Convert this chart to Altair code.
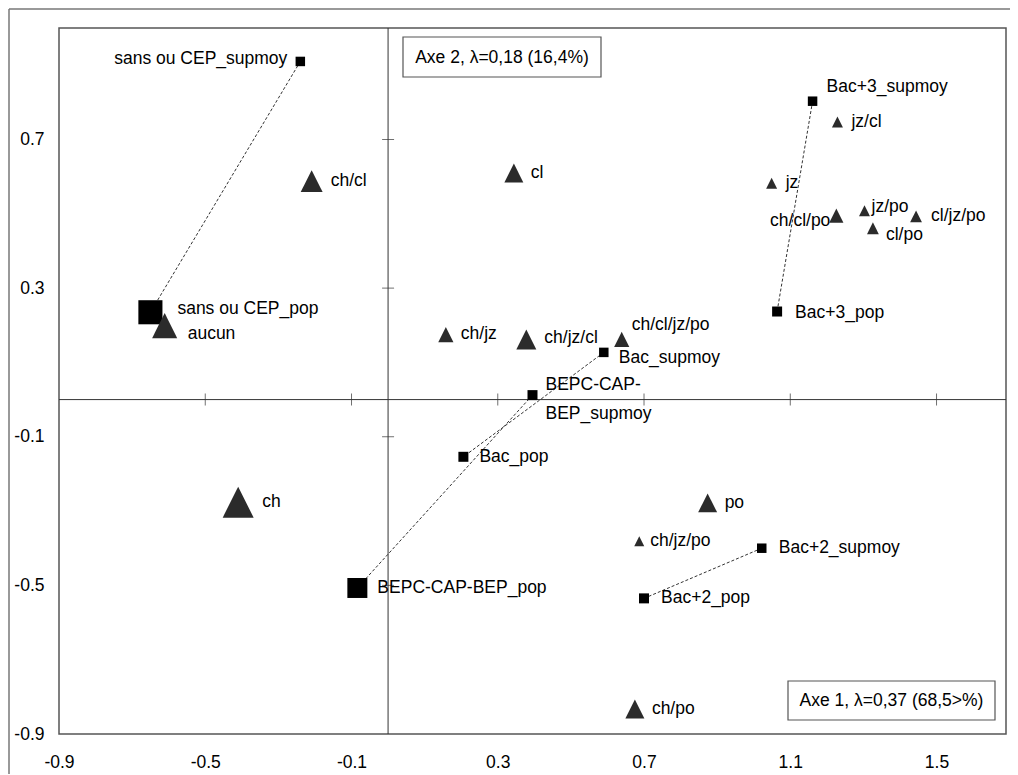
import altair as alt
import pandas as pd

# ---------------- data ----------------
NAMES = [
    "sans ou CEP_supmoy", "sans ou CEP_pop", "BEPC-CAP-BEP_supmoy", "BEPC-CAP-BEP_pop",
    "Bac_supmoy", "Bac_pop", "Bac+2_supmoy", "Bac+2_pop", "Bac+3_supmoy", "Bac+3_pop",
    "aucun", "ch", "cl", "jz", "po", "ch/cl", "ch/jz", "ch/po", "jz/cl", "jz/po",
    "cl/po", "ch/jz/cl", "ch/cl/po", "ch/jz/po", "cl/jz/po", "ch/cl/jz/po",
]
KINDS = ["diplôme"] * 10 + ["pratique"] * 16
AXE1 = [-0.24, -0.65, 0.395, -0.084, 0.59, 0.206, 1.022, 0.70, 1.161, 1.064,
        -0.611, -0.41, 0.344, 1.049, 0.874, -0.209, 0.158, 0.675, 1.229, 1.303,
        1.326, 0.378, 1.226, 0.687, 1.444, 0.639]
AXE2 = [0.91, 0.235, 0.012, -0.507, 0.127, -0.154, -0.40, -0.535, 0.803, 0.237,
        0.199, -0.276, 0.61, 0.582, -0.278, 0.588, 0.175, -0.833, 0.747, 0.508,
        0.461, 0.162, 0.495, -0.381, 0.493, 0.162]
MASS = [0.9, 5.8, 1.0, 4.0, 0.9, 1.0, 0.9, 1.0, 0.9, 1.0,
        6.3, 9.6, 3.6, 1.2, 3.6, 4.8, 2.3, 3.6, 1.2, 1.2,
        1.4, 4.0, 2.0, 1.0, 1.4, 2.3]
LINKS = [
    ("sans ou CEP_supmoy", "sans ou CEP_pop"),
    ("BEPC-CAP-BEP_supmoy", "BEPC-CAP-BEP_pop"),
    ("Bac_supmoy", "Bac_pop"),
    ("Bac+2_supmoy", "Bac+2_pop"),
    ("Bac+3_supmoy", "Bac+3_pop"),
]
X_TICKS = [-0.9, -0.5, -0.1, 0.3, 0.7, 1.1, 1.5]
Y_TICKS = [-0.9, -0.5, -0.1, 0.3, 0.7]
BOX_AXE2 = "Axe 2, λ=0,18 (16,4%)"
BOX_AXE1 = "Axe 1, λ=0,37 (68,5>%)"
DISPLAY = {"BEPC-CAP-BEP_supmoy": "BEPC-CAP-\nBEP_supmoy"}

# ---------------- label layout (pixels: dx, dy, align, baseline) ----------------
LABEL_LAYOUT = {
    "sans ou CEP_supmoy": (-13, -2, "right", "middle"),
    "sans ou CEP_pop": (27, -3, "left", "middle"),
    "BEPC-CAP-BEP_supmoy": (13, -19, "left", "top"),
    "BEPC-CAP-BEP_pop": (20, 0, "left", "middle"),
    "Bac_supmoy": (15, 6, "left", "middle"),
    "Bac_pop": (16, 0, "left", "middle"),
    "Bac+2_supmoy": (17, 0, "left", "middle"),
    "Bac+2_pop": (17, 0, "left", "middle"),
    "Bac+3_supmoy": (14, -14, "left", "middle"),
    "Bac+3_pop": (18, 1, "left", "middle"),
    "aucun": (23, 8, "left", "middle"),
    "ch": (24, 0, "left", "middle"),
    "cl": (17, 0, "left", "middle"),
    "jz": (14, 0, "left", "middle"),
    "po": (17, 0, "left", "middle"),
    "ch/cl": (19, 0, "left", "middle"),
    "ch/jz": (15, -1, "left", "middle"),
    "ch/po": (17, 0, "left", "middle"),
    "jz/cl": (14, 0, "left", "middle"),
    "jz/po": (7, -4, "left", "middle"),
    "cl/po": (13, 7, "left", "middle"),
    "ch/jz/cl": (18, -1, "left", "middle"),
    "ch/cl/po": (-6, 5, "right", "middle"),
    "ch/jz/po": (11, 0, "left", "middle"),
    "cl/jz/po": (15, 0, "left", "middle"),
    "ch/cl/jz/po": (10, -14, "left", "middle"),
}

FONT = "Liberation Sans"
FS = 17.5
W, H = 947, 706
TRI = "M0,-1L1,1L-1,1Z"

df = pd.DataFrame({"name": NAMES, "kind": KINDS, "x": AXE1, "y": AXE2, "mass": MASS})
df["label"] = [DISPLAY.get(n, n) for n in NAMES]
pos = df.set_index("name")
links = pd.DataFrame([
    {"pair": a, "x": pos.loc[a, "x"], "y": pos.loc[a, "y"],
     "x2": pos.loc[b, "x"], "y2": pos.loc[b, "y"]} for a, b in LINKS
])

xs = alt.Scale(domain=[-0.9, 1.69], nice=False, zero=False)
ys = alt.Scale(domain=[-0.9, 1.0], nice=False, zero=False)
LABEL_EXPR = "replace(format(datum.value, '.1f'), '\u2212', '-')"
xaxis = alt.Axis(values=X_TICKS, labelExpr=LABEL_EXPR, title=None, labelPadding=19,
                 labelFlush=False, labelOverlap=False)
yaxis = alt.Axis(values=Y_TICKS, labelExpr=LABEL_EXPR, title=None, labelPadding=15,
                 labelFlush=False, labelOverlap=False)


def X(f="x"):
    return alt.X(f"{f}:Q", scale=xs, axis=xaxis)


def Y(f="y"):
    return alt.Y(f"{f}:Q", scale=ys, axis=yaxis)


one = pd.DataFrame({"d": [0]})

# outer frame (decoration)
frame_top = alt.Chart(one).mark_rule(color="#777", strokeWidth=1.5).encode(
    x=alt.value(-50), x2=alt.value(951), y=alt.value(-19))
frame_left = alt.Chart(one).mark_rule(color="#777", strokeWidth=1.5).encode(
    x=alt.value(-50), y=alt.value(-19), y2=alt.value(760))

# zero axes
vline = alt.Chart(pd.DataFrame({"x": [0.0]})).mark_rule(color="#333", strokeWidth=1).encode(x=X())
hline = alt.Chart(pd.DataFrame({"y": [0.0]})).mark_rule(color="#333", strokeWidth=1).encode(y=Y())

xt = pd.DataFrame({"x": [v for v in X_TICKS if v > -0.9], "y": 0.0})
yt = pd.DataFrame({"y": [v for v in Y_TICKS if v > -0.9], "x": 0.0})
xticks = alt.Chart(xt).mark_tick(orient="vertical", size=12, thickness=1, color="#333").encode(x=X(), y=Y())
yticks = alt.Chart(yt).mark_tick(orient="horizontal", size=12, thickness=1, color="#333").encode(x=X(), y=Y())

link_layer = alt.Chart(links).mark_rule(color="#333", strokeWidth=1, strokeDash=[3, 2]).encode(
    x=X(), y=Y(), x2="x2:Q", y2="y2:Q")

points = alt.Chart(df).mark_point(filled=True, opacity=1, strokeWidth=0).encode(
    x=X(), y=Y(),
    shape=alt.Shape("kind:N", scale=alt.Scale(domain=["diplôme", "pratique"], range=["square", TRI]), legend=None),
    color=alt.Color("kind:N", scale=alt.Scale(domain=["diplôme", "pratique"], range=["#000000", "#2b2b2b"]), legend=None),
    size=alt.Size("mass:Q", scale=alt.Scale(type="linear", domain=[0, 10], range=[0, 1000]), legend=None),
)

label_layers = []
for n in NAMES:
    dx, dy, al, bl = LABEL_LAYOUT[n]
    label_layers.append(
        alt.Chart(df).transform_filter(alt.datum.name == n).mark_text(
            dx=dx, dy=dy, align=al, baseline=bl, font=FONT, fontSize=FS,
            color="#000", lineBreak="\n", lineHeight=29,
        ).encode(x=X(), y=Y(), text="label:N")
    )

box2 = alt.Chart(one).mark_rect(fill="white", stroke="#555", strokeWidth=1.2).encode(
    x=alt.value(344), x2=alt.value(542), y=alt.value(9), y2=alt.value(49))
box2t = alt.Chart(one).mark_text(font=FONT, fontSize=FS, color="#000", align="center", baseline="middle").encode(
    x=alt.value(443), y=alt.value(30), text=alt.value(BOX_AXE2))
box1 = alt.Chart(one).mark_rect(fill="white", stroke="#555", strokeWidth=1.2).encode(
    x=alt.value(729), x2=alt.value(936), y=alt.value(653), y2=alt.value(692))
box1t = alt.Chart(one).mark_text(font=FONT, fontSize=FS, color="#000", align="center", baseline="middle").encode(
    x=alt.value(832.5), y=alt.value(673), text=alt.value(BOX_AXE1))

chart = alt.layer(
    vline, hline, xticks, yticks, frame_top, frame_left, link_layer, points,
    *label_layers, box2, box2t, box1, box1t,
).properties(
    width=W, height=H,
    autosize=alt.AutoSizeParams(type="none"),
    padding={"left": 51, "top": 20, "right": 4, "bottom": 40},
).configure_view(
    stroke="#555", strokeWidth=1.5,
).configure_axis(
    grid=False, domain=False, ticks=False,
    labelFont=FONT, labelFontSize=FS, labelColor="#000",
)

chart.save("out.html", embed_options={"renderer": "svg", "actions": False})
